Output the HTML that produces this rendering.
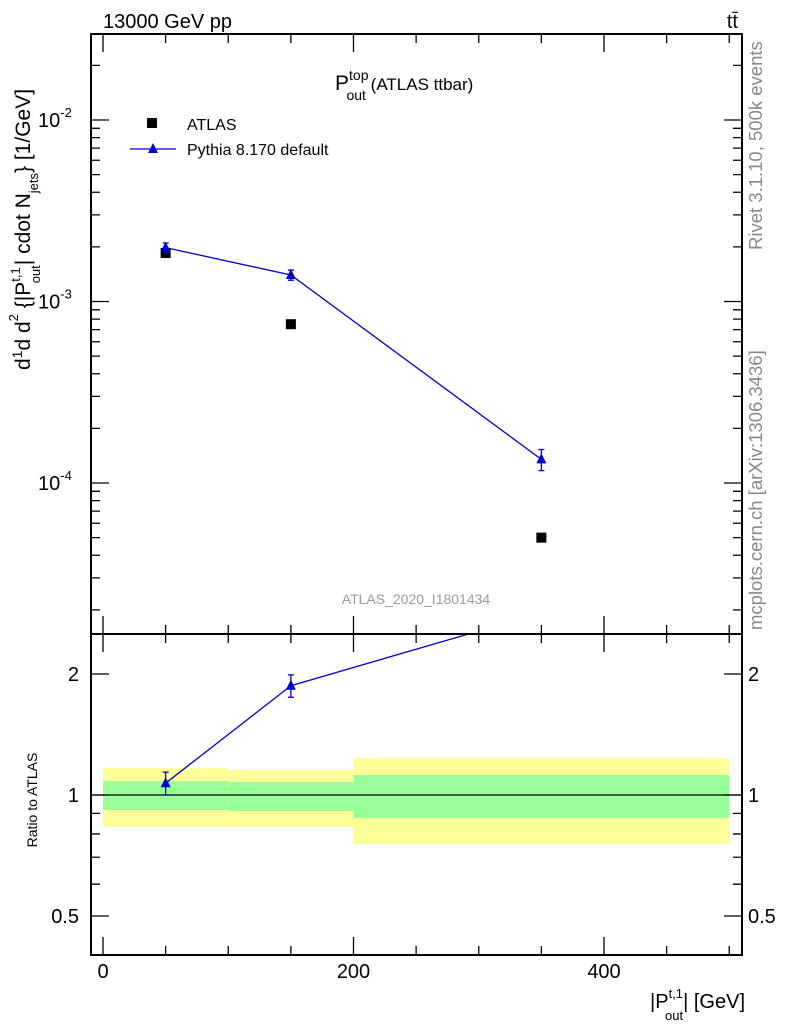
<!DOCTYPE html>
<html><head><meta charset="utf-8"><style>
body{margin:0;background:#fff;}
svg{display:block;font-family:"Liberation Sans",sans-serif;}
</style></head><body>
<svg id="c" width="786" height="1024" xmlns="http://www.w3.org/2000/svg">
<g id="bands"></g><g id="marks"></g><g id="axes"></g>
<text x="103" y="28" font-size="20">13000 GeV pp</text>
<text x="738" y="28" font-size="20" text-anchor="end">tt̄</text>
<text x="335" y="90" font-size="21">P<tspan font-size="14" dy="-10">top</tspan><tspan font-size="14" dx="-22" dy="20">out</tspan><tspan dy="-10" font-size="17"> (ATLAS ttbar)</tspan></text>
<rect x="147" y="118" width="10" height="10" fill="#000"/>
<text x="187" y="130" font-size="16">ATLAS</text>
<line x1="130" y1="149" x2="176" y2="149" stroke="#00c" stroke-width="1.3"/>
<path d="M153,143 L158,153 L148,153 Z" fill="#00c"/>
<text x="187" y="155" font-size="16">Pythia 8.170 default</text>
<text x="416" y="604" font-size="14" fill="#999" text-anchor="middle">ATLAS_2020_I1801434</text>
<text transform="translate(762,250) rotate(-90)" font-size="18.5" fill="#888">Rivet 3.1.10,  500k events</text>
<text transform="translate(762,630) rotate(-90)" font-size="18.5" fill="#888">mcplots.cern.ch [arXiv:1306.3436]</text>
<text transform="translate(30,370) rotate(-90)" font-size="21">d<tspan dy="-8" font-size="14">1</tspan><tspan dy="8">d</tspan> d<tspan font-size="13" dy="-12">2</tspan><tspan dy="12"> {|P</tspan><tspan font-size="13" dy="-10">t,1</tspan><tspan font-size="13" dx="-16" dy="20">out</tspan><tspan dy="-10">| cdot N</tspan><tspan font-size="13" dy="8">jets</tspan><tspan dy="-8">} [1/GeV]</tspan></text>
<text transform="translate(37,800) rotate(-90)" font-size="14" text-anchor="middle">Ratio to ATLAS</text>
<text x="745" y="1008" font-size="20" text-anchor="end">|P<tspan font-size="13" dy="-10">t,1</tspan><tspan font-size="13" dx="-18" dy="22">out</tspan><tspan dy="-12">| [GeV]</tspan></text>
</svg>
<script>
const xCenters=[50,150,350];
const binEdges=[0,100,200,500];
const atlasVals=[1.85e-3,7.5e-4,5.0e-5];
const pythiaVals=[1.98e-3,1.40e-3,1.35e-4];
const pythiaErr=[0.12e-3,0.09e-3,0.018e-3];
const ratioVals=[1.07,1.87,2.84];
const ratioErr=[0.07,0.12,0.4];
const greenLo=[0.918,0.912,0.877];
const greenHi=[1.083,1.077,1.121];
const yellowLo=[0.833,0.833,0.755];
const yellowHi=[1.167,1.154,1.236];
const xTicks=[0,200,400];
const ratioTicks=[0.5,1,2];

const NS="http://www.w3.org/2000/svg";
const L=91,R=742,T=34,M=634,B=955;
const X=v=>103+v*1.2525;
const Y=v=>120-(Math.log10(v)+2)*181.5;
const YR=v=>795-Math.log10(v)*402;
function mk(p,tag,attrs){const e=document.createElementNS(NS,tag);for(const k in attrs)e.setAttribute(k,attrs[k]);document.getElementById(p).appendChild(e);return e;}

for(let i=0;i<3;i++){
 let e=mk('bands','rect',{x:X(binEdges[i]),y:YR(yellowHi[i]),width:X(binEdges[i+1])-X(binEdges[i]),height:YR(yellowLo[i])-YR(yellowHi[i]),fill:'#ffff99'});
 
 
 e=mk('bands','rect',{x:X(binEdges[i]),y:YR(greenHi[i]),width:X(binEdges[i+1])-X(binEdges[i]),height:YR(greenLo[i])-YR(greenHi[i]),fill:'#99ff99'});
 
 
}
let e=mk('bands','line',{x1:L,x2:R,y1:YR(1),y2:YR(1),stroke:'#000','stroke-width':1.2});



e=mk('marks','polyline',{points:xCenters.map((x,i)=>X(x)+','+Y(pythiaVals[i])).join(' '),fill:'none',stroke:'#00c','stroke-width':1.3});


xCenters.forEach((x,i)=>{
 const cx=X(x);
 let a=mk('marks','rect',{x:cx-5,y:Y(atlasVals[i])-5,width:10,height:10,fill:'#000'});
 
 
 const y1=Y(pythiaVals[i]+pythiaErr[i]),y2=Y(pythiaVals[i]-pythiaErr[i]);
 a=mk('marks','path',{d:`M${cx},${y1}V${y2}M${cx-3},${y1}H${cx+3}M${cx-3},${y2}H${cx+3}`,stroke:'#00c','stroke-width':1.3,fill:'none'});
 
 
 const py=Y(pythiaVals[i]);
 a=mk('marks','path',{d:`M${cx},${py-6}L${cx+5},${py+4}L${cx-5},${py+4}Z`,fill:'#00c'});
 
 
});
const cp=document.createElementNS(NS,'clipPath');cp.id='rc';const cr=document.createElementNS(NS,'rect');
cr.setAttribute('x',L);cr.setAttribute('y',M);cr.setAttribute('width',R-L);cr.setAttribute('height',B-M);cp.appendChild(cr);document.getElementById('c').appendChild(cp);
e=mk('marks','polyline',{points:xCenters.map((x,i)=>X(x)+','+YR(ratioVals[i])).join(' '),fill:'none',stroke:'#00c','stroke-width':1.3,'clip-path':'url(#rc)'});


xCenters.forEach((x,i)=>{
 const cx=X(x),py=YR(ratioVals[i]);
 if(py<M)return;
 const y1=YR(ratioVals[i]+ratioErr[i]),y2=YR(ratioVals[i]-ratioErr[i]);
 let a=mk('marks','path',{d:`M${cx},${y1}V${y2}M${cx-3},${y1}H${cx+3}M${cx-3},${y2}H${cx+3}`,stroke:'#00c','stroke-width':1.3,fill:'none'});
 
 
 a=mk('marks','path',{d:`M${cx},${py-6}L${cx+5},${py+4}L${cx-5},${py+4}Z`,fill:'#00c'});
 
 
});
e=mk('axes','rect',{x:L,y:T,width:R-L,height:M-T,fill:'none',stroke:'#000','stroke-width':2});


e=mk('axes','rect',{x:L,y:M,width:R-L,height:B-M,fill:'none',stroke:'#000','stroke-width':2});


let d='';
for(let v=0;v<=500;v+=50){const x=X(v),l=v%200==0?18:9;d+=`M${x},${T}v${l}M${x},${M}v${-l}M${x},${M}v${l}M${x},${B}v${-l}`;}
for(let ex=-5;ex<=-2;ex++)for(let m=1;m<10;m++){const y=Y(m*Math.pow(10,ex));if(y<T||y>M)continue;const l=m==1?18:9;d+=`M${L},${y}h${l}M${R},${y}h${-l}`;}
[0.4,0.5,0.6,0.7,0.8,0.9,1,2].forEach(v=>{const y=YR(v);const l=ratioTicks.includes(v)?18:9;d+=`M${L},${y}h${l}M${R},${y}h${-l}`;});
e=mk('axes','path',{d:d,stroke:'#000','stroke-width':1.3,fill:'none'});


xTicks.forEach(v=>{const t=mk('axes','text',{x:X(v),y:978,'font-size':20,'text-anchor':'middle'});t.textContent=v;
 
 });
ratioTicks.forEach(v=>{[[79,'end'],[748,'start']].forEach(([x,a])=>{const t=mk('axes','text',{x:x,y:YR(v)+7,'font-size':20,'text-anchor':a});t.textContent=v;
 
 });});
[-2,-3,-4].forEach(ex=>{const t=mk('axes','text',{x:38,y:Y(Math.pow(10,ex))+7,'font-size':20});t.innerHTML=`10<tspan font-size="13" dy="-10">${ex}</tspan>`;
 
 });
</script>
</body></html>
